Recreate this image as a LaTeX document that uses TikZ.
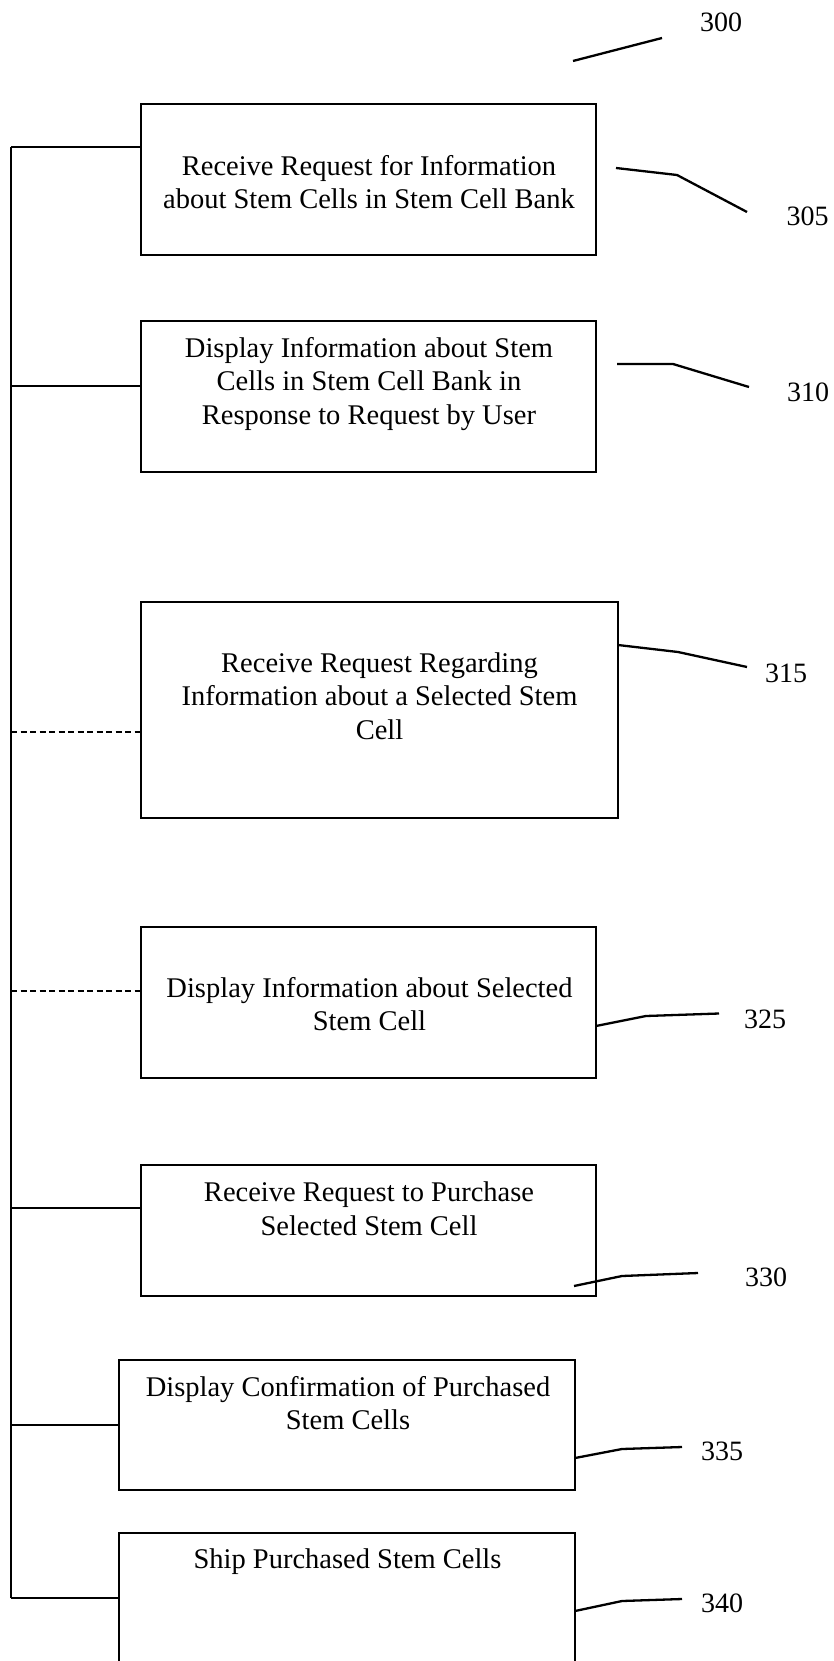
\documentclass[tikz,border=0pt]{standalone}
\usepackage{fontspec}
\setmainfont{Liberation Serif}
\begin{document}
\begin{tikzpicture}[x=1pt,y=-1pt,
  stepbox/.style={draw, line width=2.2pt, inner sep=0pt, outer sep=0pt, rectangle},
  openbox/.style={draw=none, inner sep=0pt, outer sep=0pt, rectangle},
  txt/.style={font=\fontsize{28.5}{33.5}\selectfont, align=center, inner sep=0pt},
  lbl/.style={font=\fontsize{28}{33}\selectfont, inner sep=0pt},
  conn/.style={line width=2.2pt},
  dconn/.style={line width=2.4pt, dash pattern=on 6pt off 3.5pt},
  lead/.style={line width=2.3pt, line join=round}]
\useasboundingbox (0,0) rectangle (833,1661);
\clip (0,0) rectangle (833,1661);

% boxes
\node[stepbox, minimum width=455pt, minimum height=151pt] (b305) at (368.5,179.5) {};
\node[stepbox, minimum width=455pt, minimum height=151pt] (b310) at (368.5,396.5) {};
\node[stepbox, minimum width=477pt, minimum height=216pt] (b315) at (379.5,710) {};
\node[stepbox, minimum width=455pt, minimum height=151pt] (b325) at (368.5,1002.5) {};
\node[stepbox, minimum width=455pt, minimum height=131pt] (b330) at (368.5,1230.5) {};
\node[stepbox, minimum width=456pt, minimum height=130pt] (b335) at (347,1425) {};
\node[openbox, minimum width=456pt, minimum height=147pt] (b340) at (347,1606.5) {};
\draw[line width=2.2pt] (b340.south west) -- (b340.north west) -- (b340.north east) -- (b340.south east);

% texts
\node[txt] (t305) at (369,182) {Receive Request for Information\\about Stem Cells in Stem Cell Bank};
\node[txt] (t310) at (369,384) {Display Information about Stem\\Cells in Stem Cell Bank in\\Response to Request by User};
\node[txt] (t315) at (379.5,696) {Receive Request Regarding\\Information about a Selected Stem\\Cell};
\node[txt] (t325) at (369.5,1004) {Display Information about Selected\\Stem Cell};
\node[txt] (t330) at (369,1208.5) {Receive Request to Purchase\\Selected Stem Cell};
\node[txt] (t335) at (348,1403) {Display Confirmation of Purchased\\Stem Cells};
\node[txt] (t340) at (347.5,1562) {Ship Purchased Stem Cells};

% spine
\coordinate (s305) at (11,147);
\coordinate (s310) at (11,386);
\coordinate (s315) at (11,732);
\coordinate (s325) at (11,991);
\coordinate (s330) at (11,1208);
\coordinate (s335) at (11,1425);
\coordinate (s340) at (11,1598);
\draw[conn] (s305) -- (s340);
\draw[conn] (s305) -- (s305 -| b305.west);
\draw[conn] (s310) -- (s310 -| b310.west);
\draw[dconn] (s315) -- (s315 -| b315.west);
\draw[dconn] (s325) -- (s325 -| b325.west);
\draw[conn] (s330) -- (s330 -| b330.west);
\draw[conn] (s335) -- (s335 -| b335.west);
\draw[conn] (s340) -- (s340 -| b340.west);

% reference numerals
\node[lbl] (n300) at (721,22.5) {300};
\node[lbl] (n305) at (807.5,216.5) {305};
\node[lbl] (n310) at (808,392) {310};
\node[lbl] (n315) at (786,673) {315};
\node[lbl] (n325) at (765,1019.5) {325};
\node[lbl] (n330) at (766,1277.5) {330};
\node[lbl] (n335) at (722,1451.5) {335};
\node[lbl] (n340) at (722,1603) {340};

% leader lines
\coordinate (a300) at (573,61); \coordinate (c300) at (662,38);
\draw[lead] (a300) -- (c300);
\coordinate (a305) at (616,168); \coordinate (m305) at (677,175); \coordinate (c305) at (747,212);
\draw[lead] (a305) -- (m305) -- (c305);
\coordinate (a310) at (617,364); \coordinate (m310) at (673,364); \coordinate (c310) at (749,387);
\draw[lead] (a310) -- (m310) -- (c310);
\coordinate (a315) at (618,645); \coordinate (m315) at (678,652); \coordinate (c315) at (747,667);
\draw[lead] (a315) -- (m315) -- (c315);
\coordinate (a325) at (596,1026); \coordinate (m325) at (646,1016); \coordinate (c325) at (719,1013.5);
\draw[lead] (a325) -- (m325) -- (c325);
\coordinate (a330) at (574,1286); \coordinate (m330) at (622,1276); \coordinate (c330) at (698,1273);
\draw[lead] (a330) -- (m330) -- (c330);
\coordinate (a335) at (575,1458); \coordinate (m335) at (622,1449); \coordinate (c335) at (682,1447);
\draw[lead] (a335) -- (m335) -- (c335);
\coordinate (a340) at (575,1611); \coordinate (m340) at (622,1601); \coordinate (c340) at (682,1599);
\draw[lead] (a340) -- (m340) -- (c340);
\end{tikzpicture}
\end{document}
